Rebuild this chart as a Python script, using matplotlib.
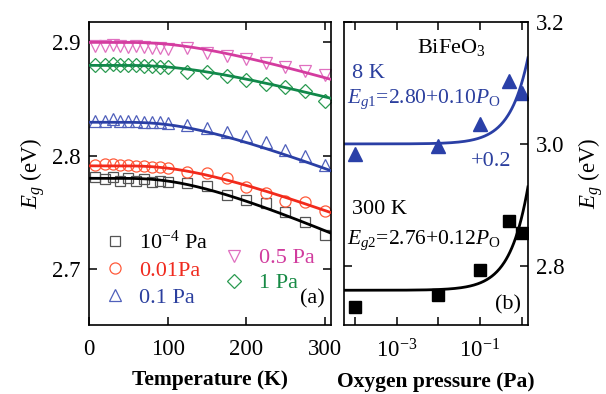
import numpy as np
import matplotlib
matplotlib.use('Agg')
import matplotlib.pyplot as plt

plt.rcParams['font.family'] = ['Liberation Serif', 'DejaVu Serif']
plt.rcParams['mathtext.fontset'] = 'custom'
plt.rcParams['mathtext.rm'] = 'Liberation Serif'
plt.rcParams['mathtext.it'] = 'Liberation Serif:italic'

# (a) band gap vs temperature for each oxygen pressure
temp = [8, 20, 30, 40, 50, 60, 70, 80, 90, 100, 125, 150, 175, 200, 225, 250, 275, 300]
eg_1e4 = [2.781, 2.779, 2.781, 2.778, 2.780, 2.778, 2.779, 2.777, 2.778, 2.777,
          2.776, 2.773, 2.765, 2.761, 2.758, 2.750, 2.741, 2.730]
eg_001 = [2.792, 2.793, 2.793, 2.792, 2.792, 2.791, 2.791, 2.790, 2.790, 2.789,
          2.786, 2.785, 2.780, 2.772, 2.767, 2.760, 2.759, 2.751]
eg_01 = [2.831, 2.831, 2.832, 2.831, 2.831, 2.831, 2.830, 2.830, 2.830, 2.829,
         2.827, 2.824, 2.821, 2.817, 2.812, 2.805, 2.800, 2.792]
eg_05 = [2.897, 2.897, 2.898, 2.897, 2.896, 2.897, 2.896, 2.895, 2.895, 2.894,
         2.895, 2.891, 2.888, 2.885, 2.882, 2.878, 2.875, 2.871]
eg_1 = [2.880, 2.880, 2.881, 2.880, 2.880, 2.880, 2.879, 2.879, 2.878, 2.878,
        2.874, 2.874, 2.870, 2.867, 2.863, 2.861, 2.857, 2.848]

series = [eg_1e4, eg_001, eg_01, eg_05, eg_1]
labels = ['10$^{-4}$ Pa', '0.01Pa', '0.1 Pa', '0.5 Pa', '1 Pa']
markers = ['s', 'o', '^', 'v', 'D']
msizes = [7, 8, 8.5, 8.5, 6.8]
line_colors = ['black', '#f22a1c', '#2a3fa5', '#d43c9f', '#11884a']
edge_colors = ['#555555', '#ff5a3a', '#5060bb', '#e070c0', '#2a9a50']
text_colors = ['black', '#f02a1e', '#2b3f9e', '#d13c9e', '#178a45']

# Bose-Einstein type fits: E0 - a / (exp(theta/T) - 1)
fit_e0 = [2.780, 2.791, 2.8295, 2.900, 2.8797]
fit_a = [0.129, 0.110, 0.114, 0.087, 0.0775]
fit_theta = [400, 400, 400, 400, 400]

# (b) band gap vs oxygen pressure
pressure = [1e-4, 1e-2, 1e-1, 0.5, 1.0]
eg_8k = [2.784, 2.796, 2.833, 2.904, 2.884]
eg_300k = [2.733, 2.752, 2.793, 2.873, 2.854]
shift_8k = 0.2
fit_8k = (2.80, 0.10)
fit_300k = (2.76, 0.12)

fig = plt.figure(figsize=(6.06, 3.94), dpi=100)
ax1 = fig.add_axes([0.1469, 0.1751, 0.3993, 0.7691])
ax2 = fig.add_axes([0.5677, 0.1751, 0.3031, 0.7691])

tt = np.linspace(1, 310, 300)
handles = []
for i in range(5):
	ax1.plot(tt, fit_e0[i] - fit_a[i] / (np.exp(fit_theta[i] / tt) - 1),
		color=line_colors[i], lw=2.0, zorder=3)
	h, = ax1.plot(temp, series[i], ls='none', marker=markers[i], ms=msizes[i],
		mfc='none', mec=edge_colors[i], mew=0.9, zorder=2, label=labels[i])
	handles.append(h)

ax1.set_xlim(0, 308)
ax1.set_ylim(2.6505, 2.918)
ax1.set_xticks([0, 100, 200, 300])
ax1.set_yticks([2.7, 2.8, 2.9])
ax1.set_xlabel('Temperature (K)', fontsize=15.5, fontweight='bold', labelpad=7)
ax1.set_ylabel('$E_g$ (eV)', fontsize=16.5, labelpad=4)

leg1 = ax1.legend(handles[:3], labels[:3], loc='upper left', bbox_to_anchor=(0.06, 0.31),
	frameon=False, fontsize=16, handlelength=1.0, handletextpad=0.6,
	labelspacing=0.28, borderpad=0, borderaxespad=0, labelcolor=text_colors[:3])
ax1.add_artist(leg1)
ax1.legend(handles[3:], labels[3:], loc='upper left', bbox_to_anchor=(0.555, 0.255),
	frameon=False, fontsize=16, handlelength=1.0, handletextpad=0.6,
	labelspacing=0.2, borderpad=0, borderaxespad=0, labelcolor=text_colors[3:])
ax1.text(0.87, 0.086, '(a)', transform=ax1.transAxes, fontsize=16, va='center')

pp = np.logspace(-4.3, 0.15, 300)
ax2.plot(pp, fit_8k[0] + fit_8k[1] * pp + shift_8k, color='#2a3fa5', lw=2.0)
ax2.plot(pp, fit_300k[0] + fit_300k[1] * pp, color='black', lw=2.0)
ax2.plot(pressure, np.array(eg_8k) + shift_8k, ls='none', marker='^', ms=9.5,
	color='#2a40a8')
ax2.plot(pressure, eg_300k, ls='none', marker='s', ms=8, color='black')

ax2.set_xscale('log')
ax2.set_xlim(10 ** -4.264, 10 ** 0.144)
ax2.set_ylim(2.703, 3.2)
ax2.set_xticks([1e-4, 1e-3, 1e-2, 1e-1, 1])
ax2.set_xticklabels(['', '10$^{-3}$', '', '10$^{-1}$', ''])
ax2.xaxis.set_minor_locator(plt.NullLocator())
ax2.set_yticks([2.8, 3.0, 3.2])
ax2.set_yticklabels(['2.8', '3.0', '3.2'])
ax2.yaxis.set_label_position('right')
ax2.set_xlabel('Oxygen pressure (Pa)', fontsize=15.5, fontweight='bold', labelpad=7)
ax2.set_ylabel('$E_g$ (eV)', fontsize=16.5, labelpad=8)

ax2.text(0.40, 0.915, 'BiFeO$_3$', transform=ax2.transAxes, fontsize=16, va='center')
ax2.text(0.045, 0.83, '8 K', transform=ax2.transAxes, fontsize=16, va='center', color='#2b3f9e')
ax2.text(0.015, 0.745, '$E_{g1}$=2.80+0.10$P_{\\rm O}$', transform=ax2.transAxes,
	fontsize=15.5, va='center', color='#2b3f9e')
ax2.text(0.69, 0.538, '+0.2', transform=ax2.transAxes, fontsize=16, va='center', color='#2b3f9e')
ax2.text(0.045, 0.38, '300 K', transform=ax2.transAxes, fontsize=16, va='center')
ax2.text(0.015, 0.28, '$E_{g2}$=2.76+0.12$P_{\\rm O}$', transform=ax2.transAxes,
	fontsize=15.5, va='center')
ax2.text(0.82, 0.065, '(b)', transform=ax2.transAxes, fontsize=16, va='center')

for ax in (ax1, ax2):
	for s in ax.spines.values():
		s.set_linewidth(1.2)
	ax.tick_params(which='both', direction='in', top=True, bottom=True, left=True, right=True,
		length=6, width=1.1, labelsize=16.5, pad=6)
	ax.tick_params(axis='x', pad=10)
ax2.tick_params(labelleft=False, labelright=True)

fig.savefig('out.png', dpi=100)
